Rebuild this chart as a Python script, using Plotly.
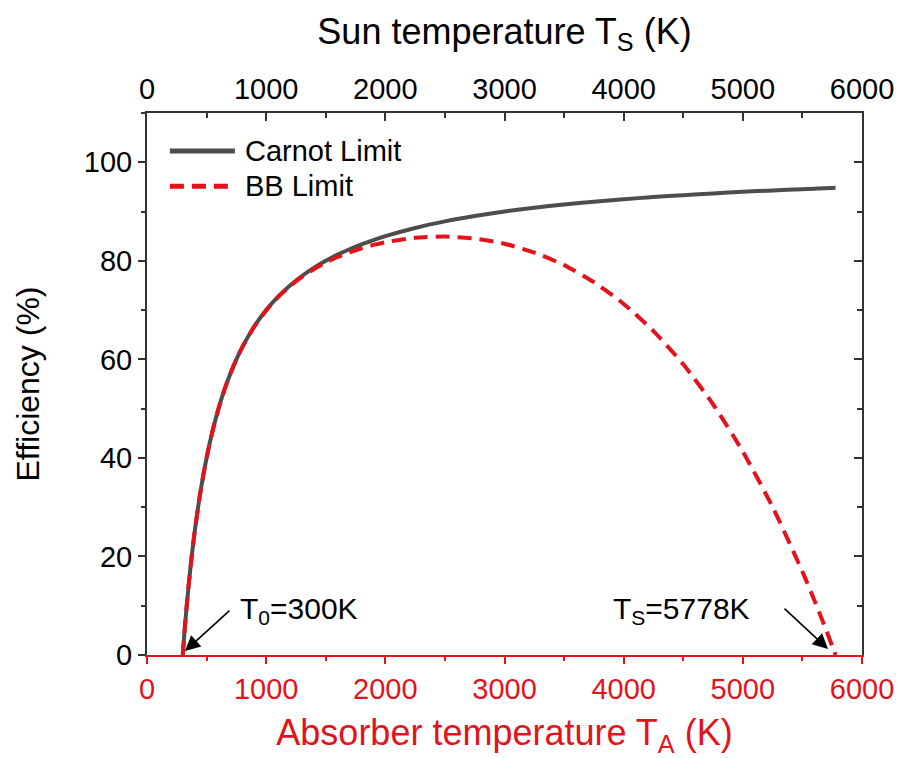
import plotly.graph_objects as go

# Absorber temperature T_A (K)
t_abs = [300, 310, 320, 330, 350, 375, 400, 450, 500, 550,
         600, 650, 700, 750, 800, 900, 1000, 1100, 1200, 1300,
         1400, 1500, 1600, 1700, 1800, 1900, 2000, 2250, 2500, 2750,
         3000, 3250, 3500, 3750, 4000, 4250, 4500, 4750, 5000, 5250,
         5500, 5600, 5650, 5700, 5750, 5778]
# Efficiency (%)
carnot = [0, 3.23, 6.25, 9.09, 14.29, 20.0, 25.0, 33.33, 40.0, 45.45,
          50.0, 53.85, 57.14, 60.0, 62.5, 66.67, 70.0, 72.73, 75.0, 76.92,
          78.57, 80.0, 81.25, 82.35, 83.33, 84.21, 85.0, 86.67, 88.0, 89.09,
          90.0, 90.77, 91.43, 92.0, 92.5, 92.94, 93.33, 93.68, 94.0, 94.29,
          94.55, 94.64, 94.69, 94.74, 94.78, 94.81]
bb = [0, 3.23, 6.25, 9.09, 14.29, 20.0, 25.0, 33.33, 40.0, 45.45,
      49.99, 53.84, 57.13, 59.98, 62.48, 66.63, 69.94, 72.63, 74.86, 76.72,
      78.30, 79.64, 80.77, 81.73, 82.55, 83.23, 83.78, 84.67, 84.92, 84.52,
      83.46, 81.68, 79.12, 75.68, 71.25, 65.73, 59.00, 50.89, 41.28, 30.02,
      16.92, 11.13, 8.11, 5.01, 1.83, 0]

x_ticks = [0, 1000, 2000, 3000, 4000, 5000, 6000]
y_ticks = [0, 20, 40, 60, 80, 100]
series_names = ["Carnot Limit", "BB Limit"]

FONT = "Liberation Sans, Arial, sans-serif"
RED = "#e3121b"
DARK = "#333333"
GRAY = "#4d4d4d"
BB_DASH = "14px,8px"

fig = go.Figure()
fig.add_trace(go.Scatter(x=t_abs, y=carnot, mode="lines", name=series_names[0],
                         line=dict(color=GRAY, width=4, shape="spline", smoothing=0.6),
                         showlegend=False))
fig.add_trace(go.Scatter(x=t_abs, y=bb, mode="lines", name=series_names[1],
                         line=dict(color=RED, width=4, dash=BB_DASH, shape="spline",
                                   smoothing=0.6),
                         showlegend=False))
# invisible trace for the top/right axes
fig.add_trace(go.Scatter(x=[0, 6000], y=[0, 0], xaxis="x2", yaxis="y2",
                         mode="lines", line=dict(width=0), showlegend=False,
                         hoverinfo="skip"))

fig.update_layout(
    width=902, height=758,
    margin=dict(l=147, r=40, t=113, b=103),
    paper_bgcolor="white", plot_bgcolor="white",
    font=dict(family=FONT, size=29, color="black"),
    showlegend=False,
    xaxis=dict(range=[0, 6000], tickvals=x_ticks, showgrid=False, zeroline=False,
               automargin=False, ticklabeloverflow="allow",
               showline=True, linecolor=RED, linewidth=2,
               ticks="outside", ticklen=7, tickcolor=RED, tickwidth=2,
               minor=dict(dtick=500, ticks="outside", ticklen=4, tickcolor=RED, tickwidth=2),
               tickfont=dict(color=RED, size=29),
               title=dict(text="Absorber temperature T<sub>A</sub> (K)",
                          font=dict(color=RED, size=36), standoff=23)),
    yaxis=dict(range=[0, 110], tickvals=y_ticks, showgrid=False, zeroline=False,
               automargin=False,
               showline=True, linecolor=DARK, linewidth=2,
               ticks="outside", ticklen=7, tickcolor=DARK, tickwidth=2,
               minor=dict(dtick=10, ticks="outside", ticklen=4, tickcolor=DARK, tickwidth=2),
               tickfont=dict(size=29),
               title=dict(text="Efficiency (%)", font=dict(size=32), standoff=35)),
    xaxis2=dict(range=[0, 6000], tickvals=x_ticks, overlaying="x", side="top",
                anchor="y", showgrid=False, zeroline=False,
                automargin=False, ticklabeloverflow="allow",
                showline=True, linecolor=DARK, linewidth=2,
                ticks="inside", ticklen=8, tickcolor=DARK, tickwidth=2,
                minor=dict(dtick=500, ticks="inside", ticklen=5, tickcolor=DARK, tickwidth=2),
                tickfont=dict(size=29),
                title=dict(text="Sun temperature T<sub>S</sub> (K)",
                           font=dict(size=36), standoff=18)),
    yaxis2=dict(range=[0, 110], tickvals=y_ticks, overlaying="y", side="right",
                anchor="x", showgrid=False, zeroline=False, showticklabels=False,
                automargin=False,
                showline=True, linecolor=DARK, linewidth=2,
                ticks="inside", ticklen=8, tickcolor=DARK, tickwidth=2,
                minor=dict(dtick=10, ticks="inside", ticklen=5, tickcolor=DARK, tickwidth=2)),
)

# manual legend (long line samples like the reference)
legend_rows = [(0.930, GRAY, "solid"), (0.865, RED, BB_DASH)]
for (yy, col, dsh), name in zip(legend_rows, series_names):
    fig.add_shape(type="line", xref="paper", yref="paper",
                  x0=0.032, x1=0.123, y0=yy, y1=yy,
                  line=dict(color=col, width=5, dash=dsh))
    fig.add_annotation(xref="paper", yref="paper", x=0.134, y=yy,
                       xanchor="left", yanchor="middle", text=name,
                       showarrow=False, font=dict(size=29))

# arrows
fig.add_annotation(x=319, y=0.8, ax=705, ay=9.3, xref="x", yref="y",
                   axref="x", ayref="y", text="", showarrow=True,
                   arrowhead=2, arrowsize=1.9, arrowwidth=1.6, arrowcolor="black")
fig.add_annotation(x=5715, y=1.2, ax=5337, ay=9.7, xref="x", yref="y",
                   axref="x", ayref="y", text="", showarrow=True,
                   arrowhead=2, arrowsize=1.9, arrowwidth=1.6, arrowcolor="black")
# labels
fig.add_annotation(x=764, y=9.0, xref="x", yref="y", xanchor="left", yanchor="middle",
                   text="T<sub>0</sub>=300K", showarrow=False, font=dict(size=30))
fig.add_annotation(x=5077, y=9.0, xref="x", yref="y", xanchor="right", yanchor="middle",
                   text="T<sub>S</sub>=5778K", showarrow=False, font=dict(size=30))

fig.write_html("out.html", config={"displayModeBar": False},
               post_script="document.body.style.margin='0px';")
